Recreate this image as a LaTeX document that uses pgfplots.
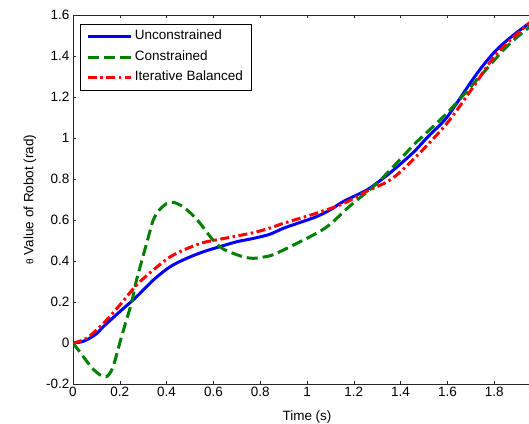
\documentclass[border=0pt]{standalone}
\usepackage{fontspec}
\setmainfont{Liberation Sans}
\usepackage{pgfplots}
\pgfplotsset{compat=1.18}
\definecolor{mgreen}{RGB}{0,128,0}
\begin{document}
\begin{tikzpicture}
\begin{axis}[
  scale only axis, width=468pt, height=369pt,
  at={(0,0)}, anchor=south west,
  xmin=0, xmax=2, ymin=-0.2, ymax=1.6,
  xtick={0,0.2,0.4,0.6,0.8,1,1.2,1.4,1.6,1.8},
  ytick={-0.2,0,0.2,0.4,0.6,0.8,1,1.2,1.4,1.6},
  tick align=inside, major tick length=3pt,
  axis line style={line width=0.9pt, black!85},
  tick style={line width=0.6pt, black!85},
  /pgf/number format/assume math mode=true,
  ticklabel style={font=\fontsize{13.5}{16}\selectfont},
  xlabel={Time (s)},
  ylabel={{\fontsize{10}{12}\selectfont θ} Value of Robot (rad)},
  every axis x label/.style={at={(axis description cs:0.5,0)}, anchor=base, yshift=-36pt, font=\fontsize{13.5}{16}\selectfont},
  every axis y label/.style={at={(axis description cs:-0.0919,0.5)}, rotate=90, anchor=center, font=\fontsize{13.5}{16}\selectfont},
  legend cell align=left,
  legend style={at={(axis description cs:0.015,0.9756)}, anchor=north west,
    font=\fontsize{13.5}{16}\selectfont, draw=black, line width=0.8pt,
    inner xsep=6pt, inner ysep=2pt,
    nodes={inner xsep=2.5pt, inner ysep=3.5pt, text height=10pt, text depth=3.5pt}},
  legend image code/.code={\draw[#1] (0pt,0pt) -- (43pt,0pt);},
]
\addplot[blue, line width=3pt, smooth] coordinates {
(0,0) (0.03,0.004) (0.058,0.015) (0.1,0.045) (0.13,0.08) (0.2,0.153)
(0.272,0.226) (0.343,0.307) (0.415,0.372) (0.486,0.413) (0.557,0.445)
(0.628,0.47) (0.70,0.494) (0.77,0.51) (0.84,0.53) (0.90,0.56) (0.97,0.588)
(1.04,0.616) (1.10,0.65) (1.155,0.69) (1.255,0.746) (1.31,0.79) (1.355,0.83)
(1.45,0.925) (1.52,1.01) (1.597,1.10) (1.697,1.267) (1.75,1.35) (1.81,1.43)
(1.88,1.50) (1.95,1.56) (2.0,1.60)};
\addlegendentry{Unconstrained}
\addplot[mgreen, line width=3pt, dash pattern=on 11pt off 5pt, smooth] coordinates {
(0,0) (0.04,-0.06) (0.08,-0.12) (0.115,-0.155) (0.144,-0.164) (0.17,-0.12)
(0.2,0.0) (0.225,0.1) (0.25,0.195) (0.27,0.3) (0.293,0.397) (0.318,0.5)
(0.343,0.6) (0.37,0.65) (0.40,0.68) (0.43,0.686) (0.47,0.665) (0.51,0.625)
(0.543,0.584) (0.6,0.50) (0.64,0.46) (0.685,0.437) (0.73,0.42) (0.77,0.413)
(0.84,0.425) (0.90,0.454) (1.04,0.535) (1.10,0.58) (1.18,0.665) (1.30,0.78)
(1.41,0.91) (1.454,0.965) (1.597,1.12) (1.739,1.30) (1.853,1.445) (1.949,1.54) (2.0,1.585)};
\addlegendentry{Constrained}
\addplot[red, line width=3pt, dash pattern=on 9pt off 3.5pt on 2.5pt off 3.5pt, smooth] coordinates {
(0,0) (0.058,0.023) (0.13,0.096) (0.2,0.185) (0.272,0.283) (0.343,0.356)
(0.415,0.42) (0.486,0.46) (0.557,0.49) (0.628,0.506) (0.70,0.522) (0.77,0.538)
(0.84,0.56) (0.90,0.584) (1.04,0.633) (1.155,0.68) (1.255,0.74) (1.355,0.795)
(1.45,0.89) (1.597,1.07) (1.711,1.25) (1.81,1.41) (1.949,1.56) (2.0,1.60)};
\addlegendentry{Iterative Balanced}
\end{axis}
\pgfresetboundingbox
\path (-73pt,-39pt) rectangle (456pt,384pt);
\end{tikzpicture}
\end{document}
